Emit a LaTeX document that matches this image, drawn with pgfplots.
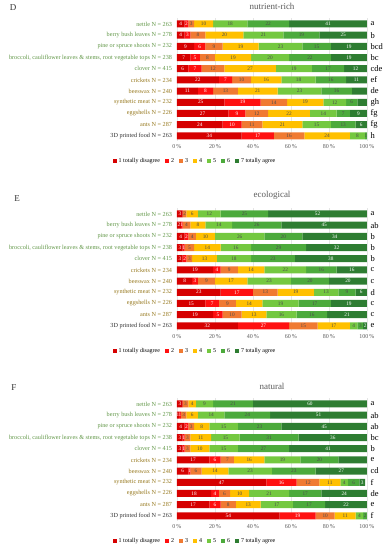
\documentclass[border=0pt]{standalone}
\usepackage{fontspec}
\setmainfont{Liberation Serif}
\usepackage{pgfplots}
\usepackage{pgfplotstable}
\pgfplotsset{compat=1.18}
\definecolor{c1}{RGB}{214,0,0}
\definecolor{c2}{RGB}{255,16,16}
\definecolor{c3}{RGB}{240,122,50}
\definecolor{c4}{RGB}{255,192,0}
\definecolor{c5}{RGB}{116,200,64}
\definecolor{c6}{RGB}{76,170,60}
\definecolor{c7}{RGB}{46,125,50}
\definecolor{plantc}{RGB}{96,150,70}
\definecolor{animc}{RGB}{150,120,30}
\definecolor{othc}{RGB}{50,50,50}
\definecolor{titc}{RGB}{90,90,90}

\pgfplotstableread{
y c1 c2 c3 c4 c5 c6 c7
0 4 2 3 10 18 22 41
1 4 3 8 20 21 19 25
2 9 6 9 19 23 15 19
3 7 5 8 19 20 22 19
4 6 7 12 27 19 17 12
5 22 7 10 16 18 16 11
6 11 8 13 21 23 16 9
7 25 19 14 19 12 6 6
8 27 9 12 22 14 7 9
9 24 10 11 21 15 13 6
10 34 17 16 24 8 1 0
}\tD
\pgfplotstableread{
y c1 c2 c3 c4 c5 c6 c7
0 3 0 2 6 12 25 52
1 2 1 4 8 14 26 45
2 4 2 4 10 26 20 34
3 3 1 5 14 16 29 32
4 3 2 3 13 18 23 38
5 19 4 9 14 22 16 16
6 8 3 9 17 23 20 20
7 23 17 13 19 13 9 6
8 15 7 9 14 19 17 19
9 19 5 10 13 16 16 21
10 32 27 15 17 4 3 2
}\tE
\pgfplotstableread{
y c1 c2 c3 c4 c5 c6 c7
0 3 0 3 4 9 21 60
1 1 1 3 6 14 24 51
2 4 2 3 8 15 23 45
3 3 1 3 11 15 31 36
4 3 1 3 10 15 27 41
5 17 6 7 16 19 20 16
6 6 1 6 14 23 23 27
7 47 16 12 11 4 6 3
8 18 4 6 10 21 17 24
9 17 6 8 13 17 17 22
10 54 19 10 11 4 2 0
}\tF

\pgfplotsset{
  ylabs/.style={yticklabels={
    {\textcolor{plantc}{nettle N = 263}},
    {\textcolor{plantc}{berry bush leaves N = 278}},
    {\textcolor{plantc}{pine or spruce shoots N = 232}},
    {\textcolor{plantc}{broccoli, cauliflower leaves \& stems, root vegetable tops N = 238}},
    {\textcolor{plantc}{clover N = 415}},
    {\textcolor{animc}{crickets N = 234}},
    {\textcolor{animc}{beeswax N = 240}},
    {\textcolor{animc}{synthetic meat N = 232}},
    {\textcolor{animc}{eggshells N = 226}},
    {\textcolor{animc}{ants N = 287}},
    {\textcolor{othc}{3D printed food N = 263}}}},
  panel/.style={
    xbar stacked, scale only axis, width=190pt, height=123pt,
    xmin=0, xmax=100, ymin=-0.5, ymax=10.5, y dir=reverse,
    bar width=7pt, ytick={0,...,10}, ylabs,
    /pgf/number format/assume math mode=true,
    xtick={0,20,...,100}, xticklabel={\pgfmathprintnumber{\tick}\,\%},
    xticklabel style={font=\fontsize{6}{7}\selectfont, text=titc},
    yticklabel style={font=\fontsize{6.2}{7}\selectfont, xshift=-1.5pt},
    xmajorgrids, grid style={gray!20},
    axis line style={draw=none}, tick style={draw=none},
    title style={font=\fontsize{9}{10}\selectfont, text=titc, yshift=-1pt},
    nodes near coords={\pgfmathfloatifflags{\pgfplotspointmeta}{0}{}{\pgfmathprintnumber{\pgfplotspointmeta}}},
    every node near coord/.append style={font=\fontsize{5.3}{6}\selectfont},
    legend style={draw=none, at={(0.095,-0.158)}, anchor=center, legend columns=7,
      font=\fontsize{6}{7}\selectfont,
      /tikz/every even column/.append style={column sep=3pt}},
    legend image code/.code={\fill[#1] (0pt,-2pt) rectangle (4pt,2pt);},
  },
  letters/.style={scale only axis, width=190pt, height=123pt,
    xmin=0, xmax=100, ymin=-0.5, ymax=10.5, y dir=reverse,
    ytick={0,...,10}, yticklabel pos=right, xtick=\empty,
    axis line style={draw=none}, tick style={draw=none},
    yticklabel style={font=\fontsize{8.5}{9}\selectfont, anchor=west, xshift=0pt}},
  wl/.style={every node near coord/.append style={text=white}},
  dl/.style={every node near coord/.append style={text=black!70}},
}

\newcommand{\bars}[1]{%
  \addplot[fill=c1, draw=none, wl] table[x=c1, y=y]{#1};
  \addplot[fill=c2, draw=none, wl] table[x=c2, y=y]{#1};
  \addplot[fill=c3, draw=none, dl] table[x=c3, y=y]{#1};
  \addplot[fill=c4, draw=none, dl] table[x=c4, y=y]{#1};
  \addplot[fill=c5, draw=none, dl] table[x=c5, y=y]{#1};
  \addplot[fill=c6, draw=none, dl] table[x=c6, y=y]{#1};
  \addplot[fill=c7, draw=none, wl] table[x=c7, y=y]{#1};
  \legend{1 totally disagree, 2, 3, 4, 5, 6, 7 totally agree}
}

\begin{document}
\begin{tikzpicture}
\useasboundingbox (0,0) rectangle (388pt,-550pt);
% Panel D
\begin{axis}[panel, at={(177pt,-18.4pt)}, anchor=north west, title={nutrient-rich}]
\bars{\tD}
\end{axis}
\begin{axis}[letters, at={(177pt,-18.4pt)}, anchor=north west,
  yticklabels={a,b,bcd,bc,cde,ef,de,gh,fg,fg,h}]
\addplot[draw=none] coordinates {(0,0)};
\end{axis}
\node[font=\fontsize{9}{10}\selectfont, text=othc] at (13pt,-8pt) {D};
% Panel E
\begin{axis}[panel, at={(177pt,-208.4pt)}, anchor=north west, title={ecological}]
\bars{\tE}
\end{axis}
\begin{axis}[letters, at={(177pt,-208.4pt)}, anchor=north west,
  yticklabels={a,ab,b,b,b,c,c,d,c,c,e}]
\addplot[draw=none] coordinates {(0,0)};
\end{axis}
\node[font=\fontsize{9}{10}\selectfont, text=othc] at (17pt,-199pt) {E};
% Panel F
\begin{axis}[panel, at={(177pt,-398.4pt)}, anchor=north west, title={natural}]
\bars{\tF}
\end{axis}
\begin{axis}[letters, at={(177pt,-398.4pt)}, anchor=north west,
  yticklabels={a,ab,ab,bc,b,e,cd,f,de,e,f}]
\addplot[draw=none] coordinates {(0,0)};
\end{axis}
\node[font=\fontsize{9}{10}\selectfont, text=othc] at (14pt,-388pt) {F};
\end{tikzpicture}
\end{document}
